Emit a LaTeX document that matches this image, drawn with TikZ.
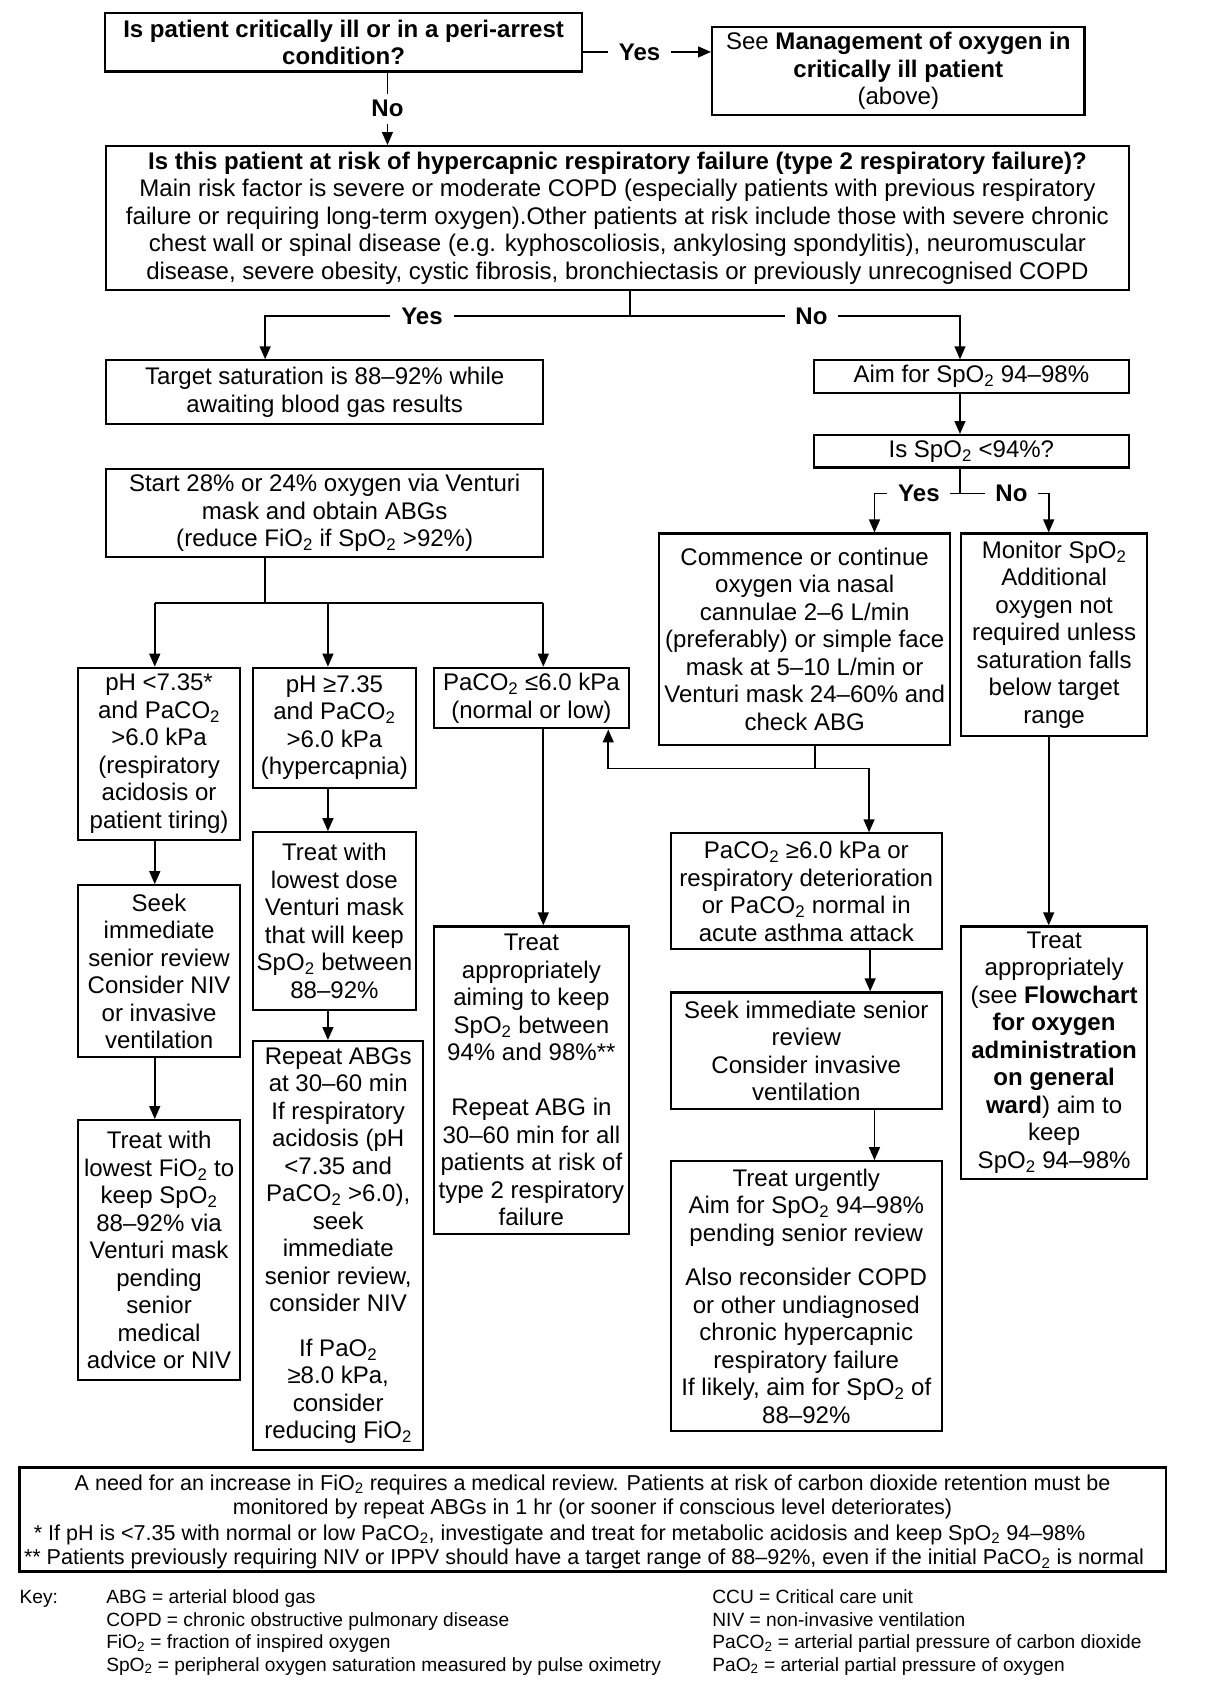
\documentclass[tikz,border=0pt]{standalone}
\usepackage{fontspec}
\setmainfont{Liberation Sans}
\usetikzlibrary{arrows.meta}
\newcommand\SpOt{SpO\textsubscript{2}}
\newcommand\PaCOt{PaCO\textsubscript{2}}
\newcommand\FiOt{FiO\textsubscript{2}}
\newcommand\PaOt{PaO\textsubscript{2}}
\begin{document}
\begin{tikzpicture}[x=1pt,y=-1pt,
  box/.style={draw, line width=2pt, align=center, inner sep=0pt, font=\fontsize{22.2}{25.4}\selectfont},
  conn/.style={line width=1.7pt},
  arr/.style={conn, -{Triangle[length=12pt,width=10pt]}},
  lbl/.style={fill=white, font=\bfseries\fontsize{22.2}{25.4}\selectfont, inner xsep=10pt, inner ysep=2pt},
  keytxt/.style={anchor=base west, inner sep=0pt, font=\fontsize{17.7}{20.7}\selectfont},
  notetxt/.style={inner sep=0pt, font=\fontsize{19.9}{23}\selectfont}
]
\useasboundingbox (0,0) rectangle (1130,1568);

% boxes
\node[box, minimum width=441pt, minimum height=54pt] (q1) at (317.5,39)
  {\textbf{Is patient critically ill or in a peri-arrest}\\\textbf{condition?}};
\node[box, minimum width=344pt, minimum height=81pt] (crit) at (830,65.5)
  {See \textbf{Management of oxygen in}\\\textbf{critically ill patient}\\(above)};
\node[box, minimum width=945pt, minimum height=133pt] (q2) at (570.5,201.5)
  {\textbf{Is this patient at risk of hypercapnic respiratory failure (type 2 respiratory failure)?}\\
   Main risk factor is severe or moderate COPD (especially patients with previous respiratory\\
   failure or requiring long-term oxygen).Other patients at risk include those with severe chronic\\
   chest wall or spinal disease (e.g. kyphoscoliosis, ankylosing spondylitis), neuromuscular\\
   disease, severe obesity, cystic fibrosis, bronchiectasis or previously unrecognised COPD};
\node[box, minimum width=404pt, minimum height=59pt] (target) at (300,362.5)
  {Target saturation is 88–92\% while\\awaiting blood gas results};
\node[box, minimum width=291pt, minimum height=30pt] (aim) at (897.5,348)
  {Aim for \SpOt{} 94–98\%};
\node[box, minimum width=404pt, minimum height=82pt] (start) at (300,474)
  {Start 28\% or 24\% oxygen via Venturi\\mask and obtain ABGs\\(reduce \FiOt{} if \SpOt{} >92\%)};
\node[box, minimum width=291pt, minimum height=30pt] (isspo) at (897.5,417)
  {Is \SpOt{} <94\%?};
\node[box, minimum width=269pt, minimum height=195pt] (commence) at (743.5,590.5)
  {Commence or continue\\oxygen via nasal\\cannulae 2–6 L/min\\(preferably) or simple face\\mask at 5–10 L/min or\\Venturi mask 24–60\% and\\check ABG};
\node[box, minimum width=172pt, minimum height=187pt] (monitor) at (974,586.5)
  {Monitor \SpOt\\Additional\\oxygen not\\required unless\\saturation falls\\below target\\range};
\node[box, minimum width=150pt, minimum height=159pt] (phlow) at (147,696.5)
  {pH <7.35*\\and \PaCOt\\>6.0 kPa\\(respiratory\\acidosis or\\patient tiring)};
\node[box, minimum width=150pt, minimum height=111pt] (phhigh) at (309,672.5)
  {pH ≥7.35\\and \PaCOt\\>6.0 kPa\\(hypercapnia)};
\node[box, minimum width=180pt, minimum height=56pt] (normal) at (491,645)
  {\PaCOt{} ≤6.0 kPa\\(normal or low)};
\node[box, minimum width=150pt, minimum height=159pt] (seekL) at (147,897.5)
  {Seek\\immediate\\senior review\\Consider NIV\\or invasive\\ventilation};
\node[box, minimum width=150pt, minimum height=164pt] (lowdose) at (309,851)
  {Treat with\\lowest dose\\Venturi mask\\that will keep\\\SpOt{} between\\88–92\%};
\node[box, minimum width=150pt, minimum height=240pt] (treatFi) at (147,1155)
  {Treat with\\lowest \FiOt{} to\\keep \SpOt\\88–92\% via\\Venturi mask\\pending\\senior\\medical\\advice or NIV};
\node[box, minimum width=157pt, minimum height=378pt] (repeat) at (312.5,1151)
  {Repeat ABGs\\at 30–60 min\\If respiratory\\acidosis (pH\\<7.35 and\\\PaCOt{} >6.0),\\seek\\immediate\\senior review,\\consider NIV\\[15.6pt]
   If \PaOt\\≥8.0 kPa,\\consider\\reducing \FiOt};
\node[box, minimum width=180pt, minimum height=284pt] (approp) at (491,998)
  {Treat\\appropriately\\aiming to keep\\\SpOt{} between\\94\% and 98\%**\\[25.4pt]
   Repeat ABG in\\30–60 min for all\\patients at risk of\\type 2 respiratory\\failure};
\node[box, minimum width=250pt, minimum height=107pt] (hyper) at (745,823.5)
  {\PaCOt{} ≥6.0 kPa or\\respiratory deterioration\\or \PaCOt{} normal in\\acute asthma attack};
\node[box, minimum width=250pt, minimum height=108pt] (seekR) at (745,971)
  {Seek immediate senior\\review\\Consider invasive\\ventilation};
\node[box, minimum width=250pt, minimum height=249pt] (urgent) at (745,1197.5)
  {Treat urgently\\Aim for \SpOt{} 94–98\%\\pending senior review\\[15.6pt]
   Also reconsider COPD\\or other undiagnosed\\chronic hypercapnic\\respiratory failure\\If likely, aim for \SpOt{} of\\88–92\%};
\node[box, minimum width=172pt, minimum height=233pt] (approp2) at (974,972.5)
  {Treat\\appropriately\\(see \textbf{Flowchart}\\\textbf{for oxygen}\\\textbf{administration}\\\textbf{on general}\\\textbf{ward}) aim to\\keep\\\SpOt{} 94–98\%};

% note box
\node[draw, line width=2pt, minimum width=1059pt, minimum height=96pt, inner sep=0pt] (note) at (547.5,1404) {};
\node[notetxt, anchor=base] (note1) at (547.5,1377)
  {A need for an increase in \FiOt{} requires a medical review. Patients at risk of carbon dioxide retention must be};
\node[notetxt, anchor=base] (note2) at (547.5,1399)
  {monitored by repeat ABGs in 1 hr (or sooner if conscious level deteriorates)};
\node[notetxt, anchor=base west] (note3) at (31,1423)
  {* If pH is <7.35 with normal or low \PaCOt, investigate and treat for metabolic acidosis and keep \SpOt{} 94–98\%};
\node[notetxt, anchor=base west] (note4) at (22,1446)
  {** Patients previously requiring NIV or IPPV should have a target range of 88–92\%, even if the initial \PaCOt{} is normal};

% key
\node[keytxt] (keyl) at (18,1482) {Key:};
\node[keytxt] (k1) at (98,1482) {ABG = arterial blood gas};
\node[keytxt] (k2) at (98,1503) {COPD = chronic obstructive pulmonary disease};
\node[keytxt] (k3) at (98,1523.5) {\FiOt{} = fraction of inspired oxygen};
\node[keytxt] (k4) at (98,1544) {\SpOt{} = peripheral oxygen saturation measured by pulse oximetry};
\node[keytxt] (k5) at (658,1482) {CCU = Critical care unit};
\node[keytxt] (k6) at (658,1503) {NIV = non-invasive ventilation};
\node[keytxt] (k7) at (658,1523.5) {\PaCOt{} = arterial partial pressure of carbon dioxide};
\node[keytxt] (k8) at (658,1544) {\PaOt{} = arterial partial pressure of oxygen};

% helper coordinates
\coordinate (cYes) at (0,48);
\coordinate (cNo) at (358,0);
\coordinate (jq2) at (582,292);
\coordinate (yesL) at (245,292);
\coordinate (noR) at (887,292);
\coordinate (j2) at (887,456);
\coordinate (yesR) at (808,456);
\coordinate (noR2) at (969,456);
\coordinate (j3) at (245,557);
\coordinate (b1) at (143,557);
\coordinate (b2) at (303,557);
\coordinate (b3) at (502,557);
\coordinate (jc) at (753,710);
\coordinate (jcL) at (562,710);
\coordinate (jcR) at (803,710);
\coordinate (cHy) at (804,0);
\coordinate (cSr) at (808,0);
\coordinate (cMo) at (969,0);

% connectors
\draw[arr] (q1.east |- cYes) -- node[lbl, pos=0.44]{Yes} (crit.west |- cYes);
\draw[arr] (q1.south -| cNo) -- node[lbl, inner ysep=6pt]{No} (q2.north -| cNo);
\draw[conn] (q2.south -| jq2) -- (jq2);
\draw[arr] (jq2) -- node[lbl, pos=0.57]{Yes} (yesL) -- (target.north -| yesL);
\draw[arr] (jq2) -- node[lbl, pos=0.55]{No} (noR) -- (aim.north -| noR);
\draw[arr] (aim.south -| noR) -- (isspo.north -| noR);
\draw[conn] (isspo.south -| j2) -- (j2);
\draw[arr] (j2) -- node[lbl, pos=0.48]{Yes} (yesR) -- (commence.north -| yesR);
\draw[arr] (j2) -- node[lbl, pos=0.58]{No} (noR2) -- (monitor.north -| noR2);
\draw[conn] (start.south -| j3) -- (j3);
\draw[conn] (b1) -- (b3);
\draw[arr] (b1) -- (phlow.north -| b1);
\draw[arr] (b2) -- (phhigh.north -| b2);
\draw[arr] (b3) -- (normal.north -| b3);
\draw[arr] (phlow.south -| b1) -- (seekL.north -| b1);
\draw[arr] (seekL.south -| b1) -- (treatFi.north -| b1);
\draw[arr] (phhigh.south -| b2) -- (lowdose.north -| b2);
\draw[arr] (lowdose.south -| b2) -- (repeat.north -| b2);
\draw[arr] (normal.south -| b3) -- (approp.north -| b3);
\draw[conn] (commence.south -| jc) -- (jc);
\draw[arr] (jc) -- (jcL) -- (normal.south -| jcL);
\draw[arr] (jc) -- (jcR) -- (hyper.north -| jcR);
\draw[arr] (hyper.south -| cHy) -- (seekR.north -| cHy);
\draw[arr] (seekR.south -| cSr) -- (urgent.north -| cSr);
\draw[arr] (monitor.south -| cMo) -- (approp2.north -| cMo);
\end{tikzpicture}
\end{document}
